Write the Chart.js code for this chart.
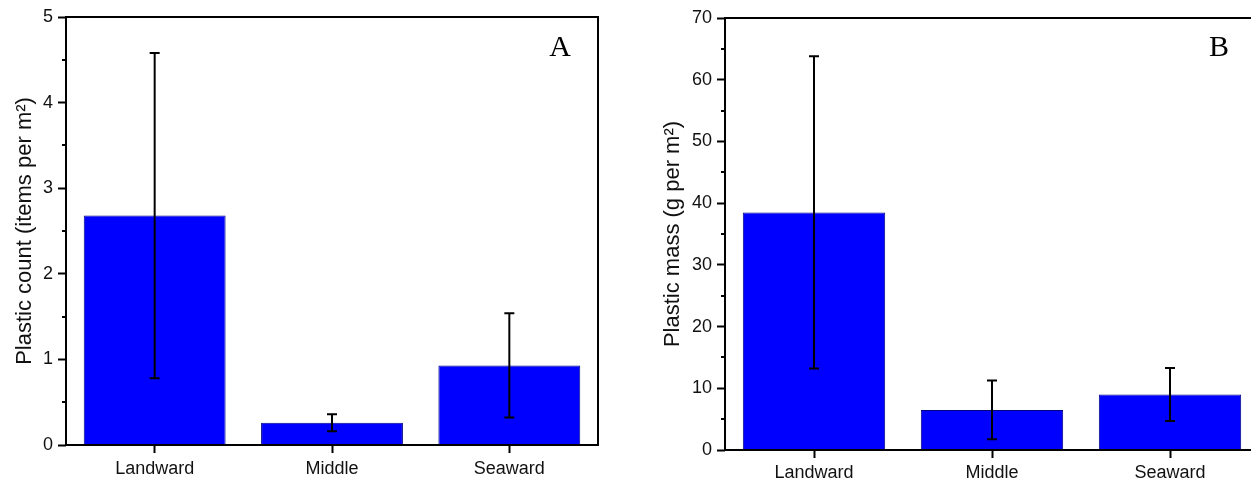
<!DOCTYPE html>
<html><head><meta charset="utf-8">
<script src="https://cdn.jsdelivr.net/npm/chart.js@4"></script>
<style>
html,body{margin:0;padding:0;background:#fff;overflow:hidden;width:1251px;height:484px;position:relative;}
#ca{position:absolute;left:0;top:0;}
#cb{position:absolute;left:650px;top:0;}
</style></head><body>
<canvas id="ca" width="620" height="484"></canvas>
<canvas id="cb" width="615" height="484"></canvas>
<script>
const categories = ['Landward', 'Middle', 'Seaward'];
const countMean = [2.68, 0.26, 0.93];
const countErr = [1.90, 0.10, 0.61];
const massMean = [38.5, 6.5, 9.0];
const massErr = [25.3, 4.75, 4.3];
const countTicks = [0, 1, 2, 3, 4, 5];
const massTicks = [0, 10, 20, 30, 40, 50, 60, 70];
const countTitle = 'Plastic count (items per m\u00B2)';
const massTitle = 'Plastic mass (g per m\u00B2)';

const FONT = "'Liberation Sans', Arial, sans-serif";
const INK = '#111';

function makePanel(id, means, errs, ticks, title, letter, g) {
  const step = ticks[1] - ticks[0];
  const panelPlugin = {
    id: 'panel_' + id,
    afterDatasetsDraw(chart) {
      const ctx = chart.ctx, a = chart.chartArea;
      const ys = chart.scales.y;
      const meta = chart.getDatasetMeta(0);
      ctx.save();
      ctx.strokeStyle = '#000';
      ctx.lineWidth = 2;
      meta.data.forEach((bar, i) => {
        const x = bar.x;
        const yt = ys.getPixelForValue(means[i] + errs[i]);
        const yb = ys.getPixelForValue(means[i] - errs[i]);
        ctx.beginPath();
        ctx.moveTo(x, yt); ctx.lineTo(x, yb);
        ctx.moveTo(x - 5, yt); ctx.lineTo(x + 5, yt);
        ctx.moveTo(x - 5, yb); ctx.lineTo(x + 5, yb);
        ctx.stroke();
      });
      ctx.beginPath();
      for (let i = 0; i < ticks.length - 1; i++) {
        const y = Math.round(ys.getPixelForValue(ticks[i] + step / 2));
        ctx.moveTo(a.left - 4, y); ctx.lineTo(a.left, y);
      }
      ctx.stroke();
      ctx.strokeRect(a.left, a.top, a.right - a.left, a.bottom - a.top);
      ctx.fillStyle = '#000';
      ctx.font = "30px 'Liberation Serif', 'Times New Roman', serif";
      ctx.textAlign = 'center';
      ctx.textBaseline = 'middle';
      ctx.fillText(letter, g.letterX, g.letterY);
      ctx.restore();
    }
  };
  return new Chart(document.getElementById(id), {
    type: 'bar',
    data: {
      labels: categories,
      datasets: [{
        data: means,
        backgroundColor: '#0000FF',
        borderColor: '#000080',
        borderWidth: 1,
        barPercentage: 0.8,
        categoryPercentage: 1.0
      }]
    },
    options: {
      responsive: false,
      animation: false,
      devicePixelRatio: 1,
      layout: { padding: g.padding },
      plugins: { legend: { display: false }, tooltip: { enabled: false } },
      scales: {
        x: {
          grid: { display: true, drawOnChartArea: false, drawTicks: true, tickLength: 8, tickWidth: 2, tickColor: '#000', offset: false },
          border: { display: false },
          ticks: { color: INK, font: { family: FONT, size: 18 }, padding: g.xPad, maxRotation: 0, autoSkip: false },
          afterFit(s) { s.height = g.xHeight; }
        },
        y: {
          min: ticks[0],
          max: ticks[ticks.length - 1],
          ticks: { stepSize: step, color: INK, font: { family: FONT, size: 18 }, padding: 5 },
          grid: { display: true, drawOnChartArea: false, drawTicks: true, tickLength: 8, tickWidth: 2, tickColor: '#000' },
          border: { display: false },
          title: { display: true, text: title, color: INK, font: { family: FONT, size: 22 }, padding: { top: g.titlePad, bottom: 0 } },
          afterFit(s) { s.width = g.yWidth; }
        }
      }
    },
    plugins: [panelPlugin]
  });
}

makePanel('ca', countMean, countErr, countTicks, countTitle, 'A',
  { yWidth: 66, xHeight: 39, xPad: 5, padding: { top: 17, right: 22, left: 0, bottom: 0 }, titlePad: 12, letterX: 560, letterY: 48 });
makePanel('cb', massMean, massErr, massTicks, massTitle, 'B',
  { yWidth: 75, xHeight: 34, xPad: 4, padding: { top: 18, right: 6, left: 0, bottom: 0 }, titlePad: 10, letterX: 569, letterY: 48 });
</script>
</body></html>
